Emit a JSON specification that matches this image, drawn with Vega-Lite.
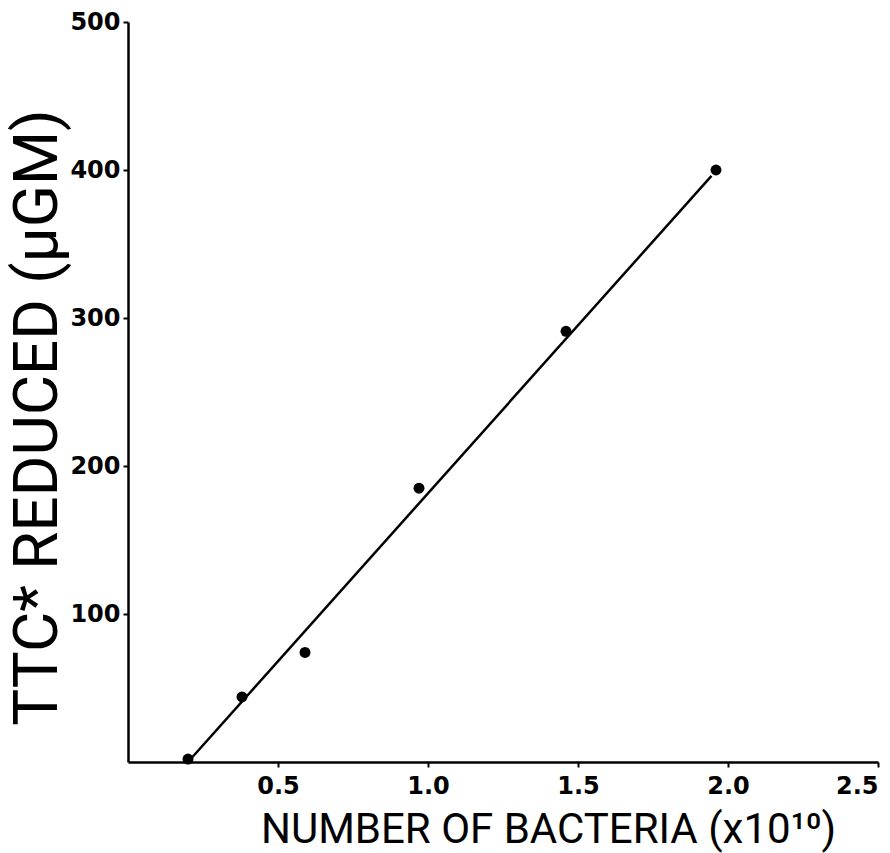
{
  "$schema": "https://vega.github.io/schema/vega-lite/v6.json",
  "width": 750,
  "height": 740,
  "autosize": {"type": "none"},
  "padding": {"left": 128, "top": 22, "right": 12, "bottom": 91},
  "background": "white",
  "config": {"view": {"stroke": null}},
  "datasets": {
    "points": [
      {"bacteria": 0.2, "ttc": 2},
      {"bacteria": 0.38, "ttc": 44},
      {"bacteria": 0.59, "ttc": 74},
      {"bacteria": 0.97, "ttc": 185},
      {"bacteria": 1.46, "ttc": 291},
      {"bacteria": 1.96, "ttc": 400}
    ],
    "fit": [
      {"bacteria": 0.2, "ttc": 0},
      {"bacteria": 1.945, "ttc": 396}
    ]
  },
  "encoding": {
    "x": {
      "field": "bacteria", "type": "quantitative",
      "scale": {"domain": [0, 2.5], "nice": false, "zero": true},
      "axis": {
        "values": [0.5, 1.0, 1.5, 2.0, 2.5],
        "format": ".1f",
        "grid": false,
        "domainColor": "black", "domainWidth": 2.5,
        "tickColor": "black", "tickWidth": 2, "tickSize": 5,
        "labelFont": "DejaVu Sans", "labelFontWeight": "bold",
        "labelFontSize": 24, "labelColor": "black", "labelPadding": 7,
        "title": "NUMBER OF BACTERIA (x10¹⁰)",
        "titleFont": "Roboto", "titleFontWeight": "normal",
        "titleFontSize": 42, "titleColor": "black",
        "titleX": 420, "titleY": 80, "titleAlign": "center", "titleBaseline": "alphabetic", "titleAnchor": null
      }
    },
    "y": {
      "field": "ttc", "type": "quantitative",
      "scale": {"domain": [0, 500], "nice": false},
      "axis": {
        "values": [100, 200, 300, 400, 500],
        "grid": false,
        "domainColor": "black", "domainWidth": 2.5,
        "tickColor": "black", "tickWidth": 2, "tickSize": 5,
        "labelFont": "DejaVu Sans", "labelFontWeight": "bold",
        "labelFontSize": 24, "labelColor": "black", "labelPadding": 3,
        "title": "TTC* REDUCED (μGM)",
        "titleFont": "Roboto", "titleFontWeight": "normal",
        "titleFontSize": 62, "titleColor": "black",
        "titleX": -72, "titleY": 395, "titleAlign": "center", "titleBaseline": "alphabetic", "titleAngle": -90
      }
    }
  },
  "layer": [
    {
      "data": {"name": "fit"},
      "mark": {"type": "line", "color": "black", "strokeWidth": 2.5}
    },
    {
      "data": {"name": "points"},
      "mark": {"type": "point", "filled": true, "color": "black", "opacity": 1, "size": 120}
    }
  ]
}
